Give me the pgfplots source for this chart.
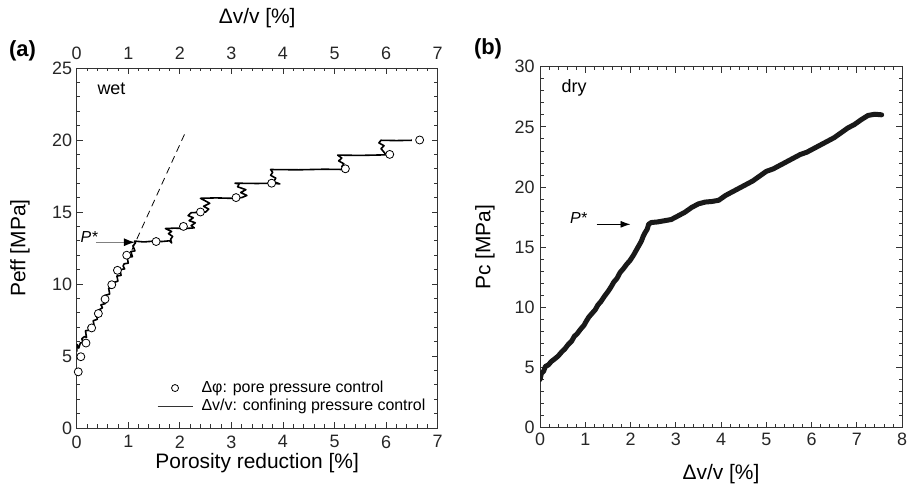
\documentclass[border=0pt]{standalone}
\usepackage{fontspec}
\setmainfont{Liberation Sans}
\usepackage{pgfplots}
\pgfplotsset{compat=1.18}
\usetikzlibrary{arrows.meta}
\definecolor{axgray}{gray}{0.2}
\pgfplotsset{
  myax/.style={
    scale only axis,
    anchor=south west,
    axis line style={axgray, line width=0.9bp},
    tick style={axgray, line width=0.8bp},
    tick align=inside,
    major tick length=6bp,
    minor tick length=3.5bp,
    minor x tick num=4,
    minor y tick num=4,
    tick label style={font=\fontsize{18}{20}\selectfont, text=black!85},
    label style={font=\fontsize{21}{24}\selectfont},
    /pgf/number format/assume math mode=true,
  }
}
\pgfplotstableread{
x y
0.00 5.30
0.01 5.80
0.04 5.55
0.07 5.90
0.12 5.95
0.10 6.20
0.15 6.35
0.19 6.30
0.17 6.75
0.24 6.80
0.22 7.00
0.28 7.15
0.34 7.05
0.32 7.45
0.40 7.55
0.38 7.90
0.46 8.05
0.43 8.20
0.50 8.35
0.47 8.55
0.56 8.65
0.58 9.05
0.54 9.20
0.64 9.30
0.62 9.70
0.70 9.75
0.67 9.95
0.72 10.10
0.80 10.20
0.78 10.55
0.86 10.60
0.84 11.00
0.93 11.05
0.90 11.25
0.92 11.40
1.00 11.45
0.98 11.85
1.08 11.90
1.05 12.25
1.13 12.30
1.09 12.65
1.14 12.85
1.12 12.98
1.30 12.92
1.50 12.98
1.65 12.95
1.80 13.00
1.84 12.85
1.82 13.10
1.86 13.30
1.78 13.50
1.84 13.65
1.72 13.85
1.90 13.88
2.10 13.85
2.28 13.90
2.22 14.05
2.30 14.25
2.18 14.40
2.26 14.60
2.16 14.75
2.22 14.95
2.40 14.98
2.50 15.00
2.56 15.20
2.46 15.40
2.58 15.60
2.48 15.80
2.40 15.95
2.70 15.98
3.00 15.95
3.20 16.00
3.30 16.15
3.18 16.35
3.28 16.55
3.12 16.75
3.15 16.95
3.07 17.00
3.50 16.98
3.80 17.00
3.94 16.95
3.82 17.10
3.86 17.35
3.76 17.55
3.80 17.75
3.76 17.95
4.30 17.93
4.80 17.97
5.20 17.95
5.14 18.15
5.18 18.35
5.08 18.55
5.14 18.75
5.06 18.95
5.50 18.93
6.00 18.97
5.96 19.15
5.90 19.40
5.96 19.60
5.86 19.80
5.90 19.98
6.20 19.96
6.50 19.98
}\wetline
\pgfplotstableread{
x y
0.03 3.9
0.08 4.95
0.18 5.9
0.29 6.95
0.42 7.95
0.55 8.95
0.68 9.95
0.79 10.95
0.97 12.0
1.54 12.95
2.07 14.0
2.40 15.0
3.09 16.0
3.78 17.0
5.21 18.0
6.07 19.0
6.65 20.0
}\wetcircles
\pgfplotstableread{
x y
0.00 4.0
0.03 4.5
0.08 4.7
0.12 5.1
0.18 5.2
0.25 5.5
0.32 5.7
0.40 5.95
0.48 6.3
0.55 6.55
0.62 6.9
0.70 7.2
0.76 7.6
0.82 7.8
0.90 8.2
0.97 8.5
1.03 8.9
1.08 9.2
1.15 9.5
1.22 9.8
1.28 10.2
1.35 10.5
1.42 10.9
1.50 11.3
1.57 11.7
1.63 12.1
1.70 12.4
1.77 12.9
1.84 13.2
1.92 13.6
1.99 13.9
2.06 14.3
2.12 14.7
2.18 15.1
2.24 15.5
2.28 15.9
2.32 16.2
2.37 16.5
2.40 16.9
2.46 17.05
2.60 17.1
2.75 17.2
2.90 17.3
3.05 17.6
3.20 17.9
3.35 18.3
3.50 18.6
3.65 18.75
3.80 18.8
3.95 18.9
4.10 19.3
4.25 19.6
4.40 19.9
4.55 20.2
4.70 20.5
4.85 20.9
5.00 21.3
5.15 21.5
5.30 21.8
5.45 22.1
5.60 22.4
5.75 22.7
5.90 22.9
6.05 23.2
6.20 23.5
6.35 23.8
6.50 24.1
6.65 24.5
6.80 24.9
6.95 25.2
7.10 25.6
7.25 25.95
7.40 26.05
7.55 26.0
}\dryline
\begin{document}
\begin{tikzpicture}
\path[use as bounding box] (0,0) rectangle (910bp,488bp);
% ---------- panel (a) ----------
\begin{axis}[myax, at={(76.7bp,60bp)}, width=361bp, height=360bp,
  xmin=0, xmax=7, ymin=0, ymax=25,
  xtick={0,...,7}, ytick={0,5,...,25},
  xticklabel pos=lower,
  xticklabel shift=4bp, yticklabel shift=1bp,
  xlabel={Porosity reduction [\%]}, ylabel={Peff [MPa]},
  xlabel style={at={(axis description cs:0.5,-0.097)}, anchor=center},
  ylabel style={at={(axis description cs:-0.157,0.5)}, anchor=center},
  legend cell align=left,
  legend style={draw=none, fill=none, at={(rel axis cs:0.222,0.086)}, anchor=west,
    inner sep=0pt, font=\fontsize{16}{18}\selectfont,
    nodes={inner sep=1bp, text height=12bp, text depth=4bp}},
]
\addlegendimage{legend image code/.code={\path[draw=none] (0,0) -- (43bp,0); \draw[black, fill=white, line width=0.8bp] (17.5bp,0) circle (3.5bp);}}
\addlegendentry{Δφ: pore pressure control}
\addlegendimage{legend image code/.code={\path[draw=none] (0,0) -- (43bp,0); \draw[black!80, line width=1bp] (0,0) -- (35bp,0);}}
\addlegendentry{Δv/v: confining pressure control}
\addplot[forget plot, black, dash pattern=on 7bp off 5bp, line width=0.8bp] coordinates {(1.07,12.36) (2.10,20.47)};
\addplot[forget plot, black, line width=1.6bp, line join=round] table[x=x,y=y] {\wetline};
\addplot[forget plot, only marks, mark=*, mark size=4bp, mark options={draw=black, fill=white, line width=0.8bp}] table[x=x,y=y] {\wetcircles};
\draw[gray, line width=1.4bp, -{Latex[length=11bp, width=8bp, color=black]}] (axis cs:0.37,12.9) -- (axis cs:1.13,12.9);
\node[font=\fontsize{16}{18}\selectfont\itshape] at (axis cs:0.24,13.25) {P*};
\node[font=\fontsize{18}{20}\selectfont, anchor=west] at (rel axis cs:0.048,0.942) {wet};
\end{axis}
\begin{axis}[myax, at={(76.7bp,60bp)}, width=361bp, height=360bp,
  xmin=0, xmax=7, ymin=0, ymax=25,
  axis x line*=top, axis y line=none,
  xtick={0,...,7}, major tick length=0pt, minor x tick num=0,
  xticklabel shift=5bp,
  xlabel={Δv/v [\%]},
  xlabel style={at={(axis description cs:0.5,1.139)}, anchor=center},
]
\addplot[draw=none] coordinates {(0,0)};
\end{axis}
% ---------- panel (b) ----------
\begin{axis}[myax, at={(540bp,60.3bp)}, width=362bp, height=361bp,
  xmin=0, xmax=8, ymin=0, ymax=30,
  xtick={0,...,8}, ytick={0,5,...,30},
  xticklabel shift=2bp, yticklabel shift=2bp,
  xlabel={Δv/v [\%]}, ylabel={Pc [MPa]},
  xlabel style={at={(axis description cs:0.5,-0.128)}, anchor=center},
  ylabel style={at={(axis description cs:-0.152,0.5)}, anchor=center},
]
\addplot[black!90, line width=5bp, line join=round, line cap=round] table[x=x,y=y] {\dryline};
\draw[black, line width=0.9bp, -{Latex[length=10bp, width=7bp]}] (axis cs:1.25,16.9) -- (axis cs:2.0,16.9);
\node[font=\fontsize{16}{18}\selectfont\itshape] at (axis cs:0.85,17.42) {P*};
\node[font=\fontsize{18}{20}\selectfont, anchor=west] at (rel axis cs:0.05,0.941) {dry};
\end{axis}
\node[font=\fontsize{22}{24}\selectfont\bfseries] at (22.5bp,437bp) {(a)};
\node[font=\fontsize{22}{24}\selectfont\bfseries] at (488bp,439bp) {(b)};
\end{tikzpicture}
\end{document}
